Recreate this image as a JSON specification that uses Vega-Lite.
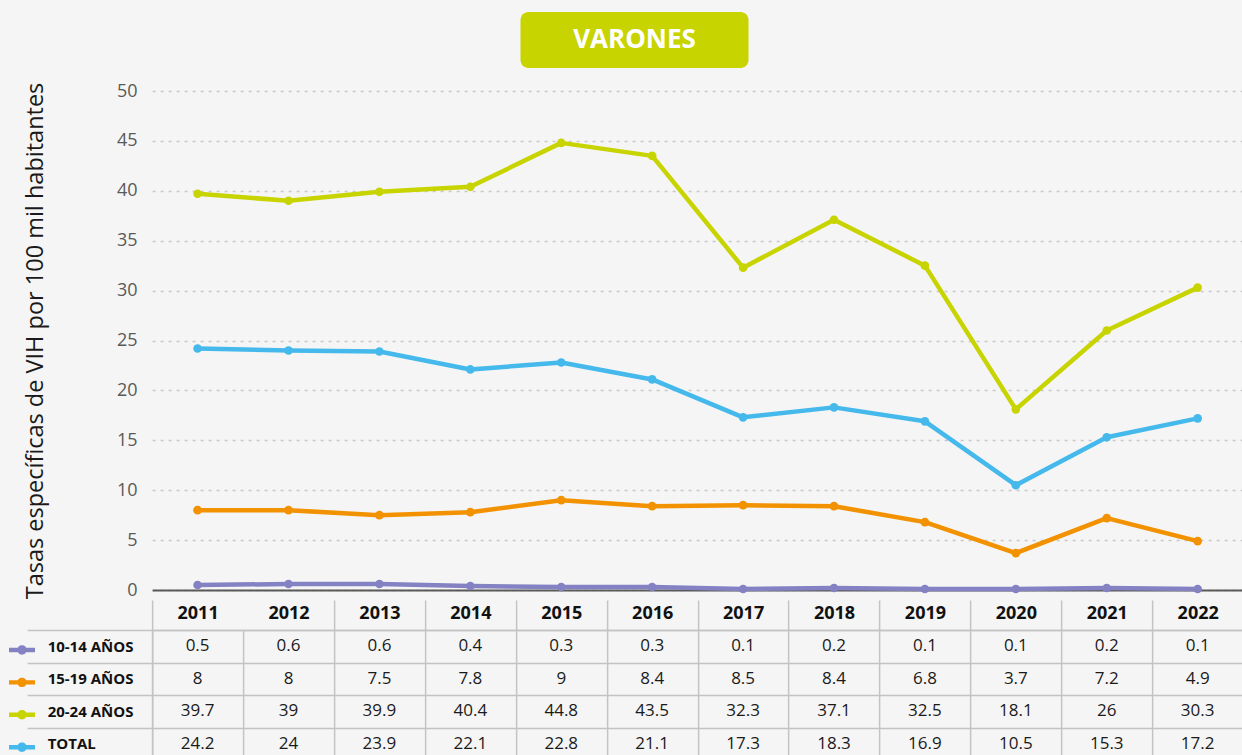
{
  "$schema": "https://vega.github.io/schema/vega-lite/v6.json",
  "background": "#f5f5f5",
  "padding": {"left": 9, "top": 12, "right": 0, "bottom": 0},
  "config": {"view": {"stroke": null}, "font": "Open Sans"},
  "datasets": {
    "rates": [
      {"year": 2011, "series": "10-14 AÑOS", "value": 0.5},
      {"year": 2012, "series": "10-14 AÑOS", "value": 0.6},
      {"year": 2013, "series": "10-14 AÑOS", "value": 0.6},
      {"year": 2014, "series": "10-14 AÑOS", "value": 0.4},
      {"year": 2015, "series": "10-14 AÑOS", "value": 0.3},
      {"year": 2016, "series": "10-14 AÑOS", "value": 0.3},
      {"year": 2017, "series": "10-14 AÑOS", "value": 0.1},
      {"year": 2018, "series": "10-14 AÑOS", "value": 0.2},
      {"year": 2019, "series": "10-14 AÑOS", "value": 0.1},
      {"year": 2020, "series": "10-14 AÑOS", "value": 0.1},
      {"year": 2021, "series": "10-14 AÑOS", "value": 0.2},
      {"year": 2022, "series": "10-14 AÑOS", "value": 0.1},
      {"year": 2011, "series": "15-19 AÑOS", "value": 8},
      {"year": 2012, "series": "15-19 AÑOS", "value": 8},
      {"year": 2013, "series": "15-19 AÑOS", "value": 7.5},
      {"year": 2014, "series": "15-19 AÑOS", "value": 7.8},
      {"year": 2015, "series": "15-19 AÑOS", "value": 9},
      {"year": 2016, "series": "15-19 AÑOS", "value": 8.4},
      {"year": 2017, "series": "15-19 AÑOS", "value": 8.5},
      {"year": 2018, "series": "15-19 AÑOS", "value": 8.4},
      {"year": 2019, "series": "15-19 AÑOS", "value": 6.8},
      {"year": 2020, "series": "15-19 AÑOS", "value": 3.7},
      {"year": 2021, "series": "15-19 AÑOS", "value": 7.2},
      {"year": 2022, "series": "15-19 AÑOS", "value": 4.9},
      {"year": 2011, "series": "20-24 AÑOS", "value": 39.7},
      {"year": 2012, "series": "20-24 AÑOS", "value": 39},
      {"year": 2013, "series": "20-24 AÑOS", "value": 39.9},
      {"year": 2014, "series": "20-24 AÑOS", "value": 40.4},
      {"year": 2015, "series": "20-24 AÑOS", "value": 44.8},
      {"year": 2016, "series": "20-24 AÑOS", "value": 43.5},
      {"year": 2017, "series": "20-24 AÑOS", "value": 32.3},
      {"year": 2018, "series": "20-24 AÑOS", "value": 37.1},
      {"year": 2019, "series": "20-24 AÑOS", "value": 32.5},
      {"year": 2020, "series": "20-24 AÑOS", "value": 18.1},
      {"year": 2021, "series": "20-24 AÑOS", "value": 26},
      {"year": 2022, "series": "20-24 AÑOS", "value": 30.3},
      {"year": 2011, "series": "TOTAL", "value": 24.2},
      {"year": 2012, "series": "TOTAL", "value": 24},
      {"year": 2013, "series": "TOTAL", "value": 23.9},
      {"year": 2014, "series": "TOTAL", "value": 22.1},
      {"year": 2015, "series": "TOTAL", "value": 22.8},
      {"year": 2016, "series": "TOTAL", "value": 21.1},
      {"year": 2017, "series": "TOTAL", "value": 17.3},
      {"year": 2018, "series": "TOTAL", "value": 18.3},
      {"year": 2019, "series": "TOTAL", "value": 16.9},
      {"year": 2020, "series": "TOTAL", "value": 10.5},
      {"year": 2021, "series": "TOTAL", "value": 15.3},
      {"year": 2022, "series": "TOTAL", "value": 17.2}
    ]
  },
  "spacing": 14,
  "center": true,
  "vconcat": [
    {
      "width": 228,
      "height": 56,
      "view": {"fill": "#c8d400", "cornerRadius": 8, "stroke": null},
      "data": {"values": [{"t": "VARONES"}]},
      "mark": {"type": "text", "font": "Open Sans", "fontWeight": "bold", "fontSize": 26, "color": "#ffffff"},
      "encoding": {
        "text": {"field": "t", "type": "nominal"},
        "y": {"field": "t", "type": "nominal", "axis": {"orient": "right", "offset": 127, "domainOpacity": 0, "labels": false, "ticks": false, "grid": false, "title": null}}
      }
    },
    {
      "spacing": 0,
      "vconcat": [
        {
          "width": 1091,
          "height": 499,
          "data": {"name": "rates"},
          "encoding": {
            "x": {
              "field": "year", "type": "ordinal", "bandPosition": 0.5,
              "scale": {"type": "band", "paddingInner": 0, "paddingOuter": 0},
              "axis": {"labels": false, "ticks": false, "grid": false, "title": null, "domain": true, "domainColor": "#595959", "domainWidth": 2}
            },
            "y": {
              "field": "value", "type": "quantitative",
              "scale": {"domain": [0, 50], "nice": false},
              "axis": {
                "values": [0, 5, 10, 15, 20, 25, 30, 35, 40, 45, 50],
                "grid": true, "gridDash": [3, 5], "gridColor": "#c8c8c8", "gridWidth": 1.5,
                "domain": false, "ticks": false,
                "labelFontSize": 18, "labelColor": "#595959", "labelPadding": 15,
                "title": "Tasas específicas de VIH por 100 mil habitantes",
                "titleFontSize": 23.5, "titleFontWeight": "normal", "titleColor": "#1a1a1a", "titlePadding": 69
              }
            },
            "color": {
              "field": "series", "type": "nominal",
              "scale": {"domain": ["10-14 AÑOS", "15-19 AÑOS", "20-24 AÑOS", "TOTAL"], "range": ["#8482c3", "#f39200", "#c8d400", "#45b9eb"]},
              "legend": {
                "orient": "none", "legendX": -143, "legendY": 625, "title": null,
                "symbolType": "M-1,-0.17 L1,-0.17 L1,0.17 L-1,0.17 Z M-0.36,0 A0.36,0.36 0 1,1 0.36,0 A0.36,0.36 0 1,1 -0.36,0 Z",
                "symbolSize": 676, "symbolStrokeWidth": 0, "symbolOpacity": 1,
                "rowPadding": 14.4, "labelExpr": "''", "labelFontSize": 1
              }
            }
          },
          "layer": [
            {"mark": {"type": "point", "filled": true, "size": 75, "opacity": 1}},
            {"mark": {"type": "line", "strokeWidth": 4.5, "strokeJoin": "round", "strokeCap": "round"}}
          ]
        },
        {
          "width": 1091,
          "height": 130,
          "data": {"name": "rates"},
          "mark": {"type": "text", "fontSize": 17, "color": "#1a1a1a"},
          "encoding": {
            "x": {
              "field": "year", "type": "ordinal",
              "scale": {"type": "band", "paddingInner": 0, "paddingOuter": 0},
              "axis": {
                "orient": "top", "tickBand": "extent", "tickSize": 30, "tickColor": "#c3c3c3", "tickWidth": 1.5,
                "tickOpacity": {"condition": {"test": "datum.value == 2011 && !datum.extra", "value": 0}, "value": 1},
                "domain": true, "domainColor": "#c3c3c3", "domainWidth": 1.5,
                "grid": true, "gridColor": "#c3c3c3", "gridWidth": 1.5,
                "labelFontWeight": "bold", "labelFontSize": 18, "labelColor": "#111111",
                "labelPadding": -13, "labelBaseline": "middle", "labelAngle": 0, "title": null
              }
            },
            "y": {
              "field": "series", "type": "nominal",
              "scale": {"type": "band", "paddingInner": 0, "paddingOuter": 0},
              "axis": {
                "tickBand": "extent", "tickSize": 125, "tickColor": "#c3c3c3", "tickWidth": 1.5,
                "domain": true, "domainColor": "#c3c3c3", "domainWidth": 1.5,
                "grid": true, "gridColor": "#c3c3c3", "gridWidth": 1.5,
                "labelAlign": "left", "labelPadding": -20, "labelFontWeight": "bold", "labelFontSize": 15, "labelColor": "#111111",
                "title": null
              }
            },
            "text": {"field": "value", "type": "nominal"}
          }
        }
      ]
    }
  ]
}
